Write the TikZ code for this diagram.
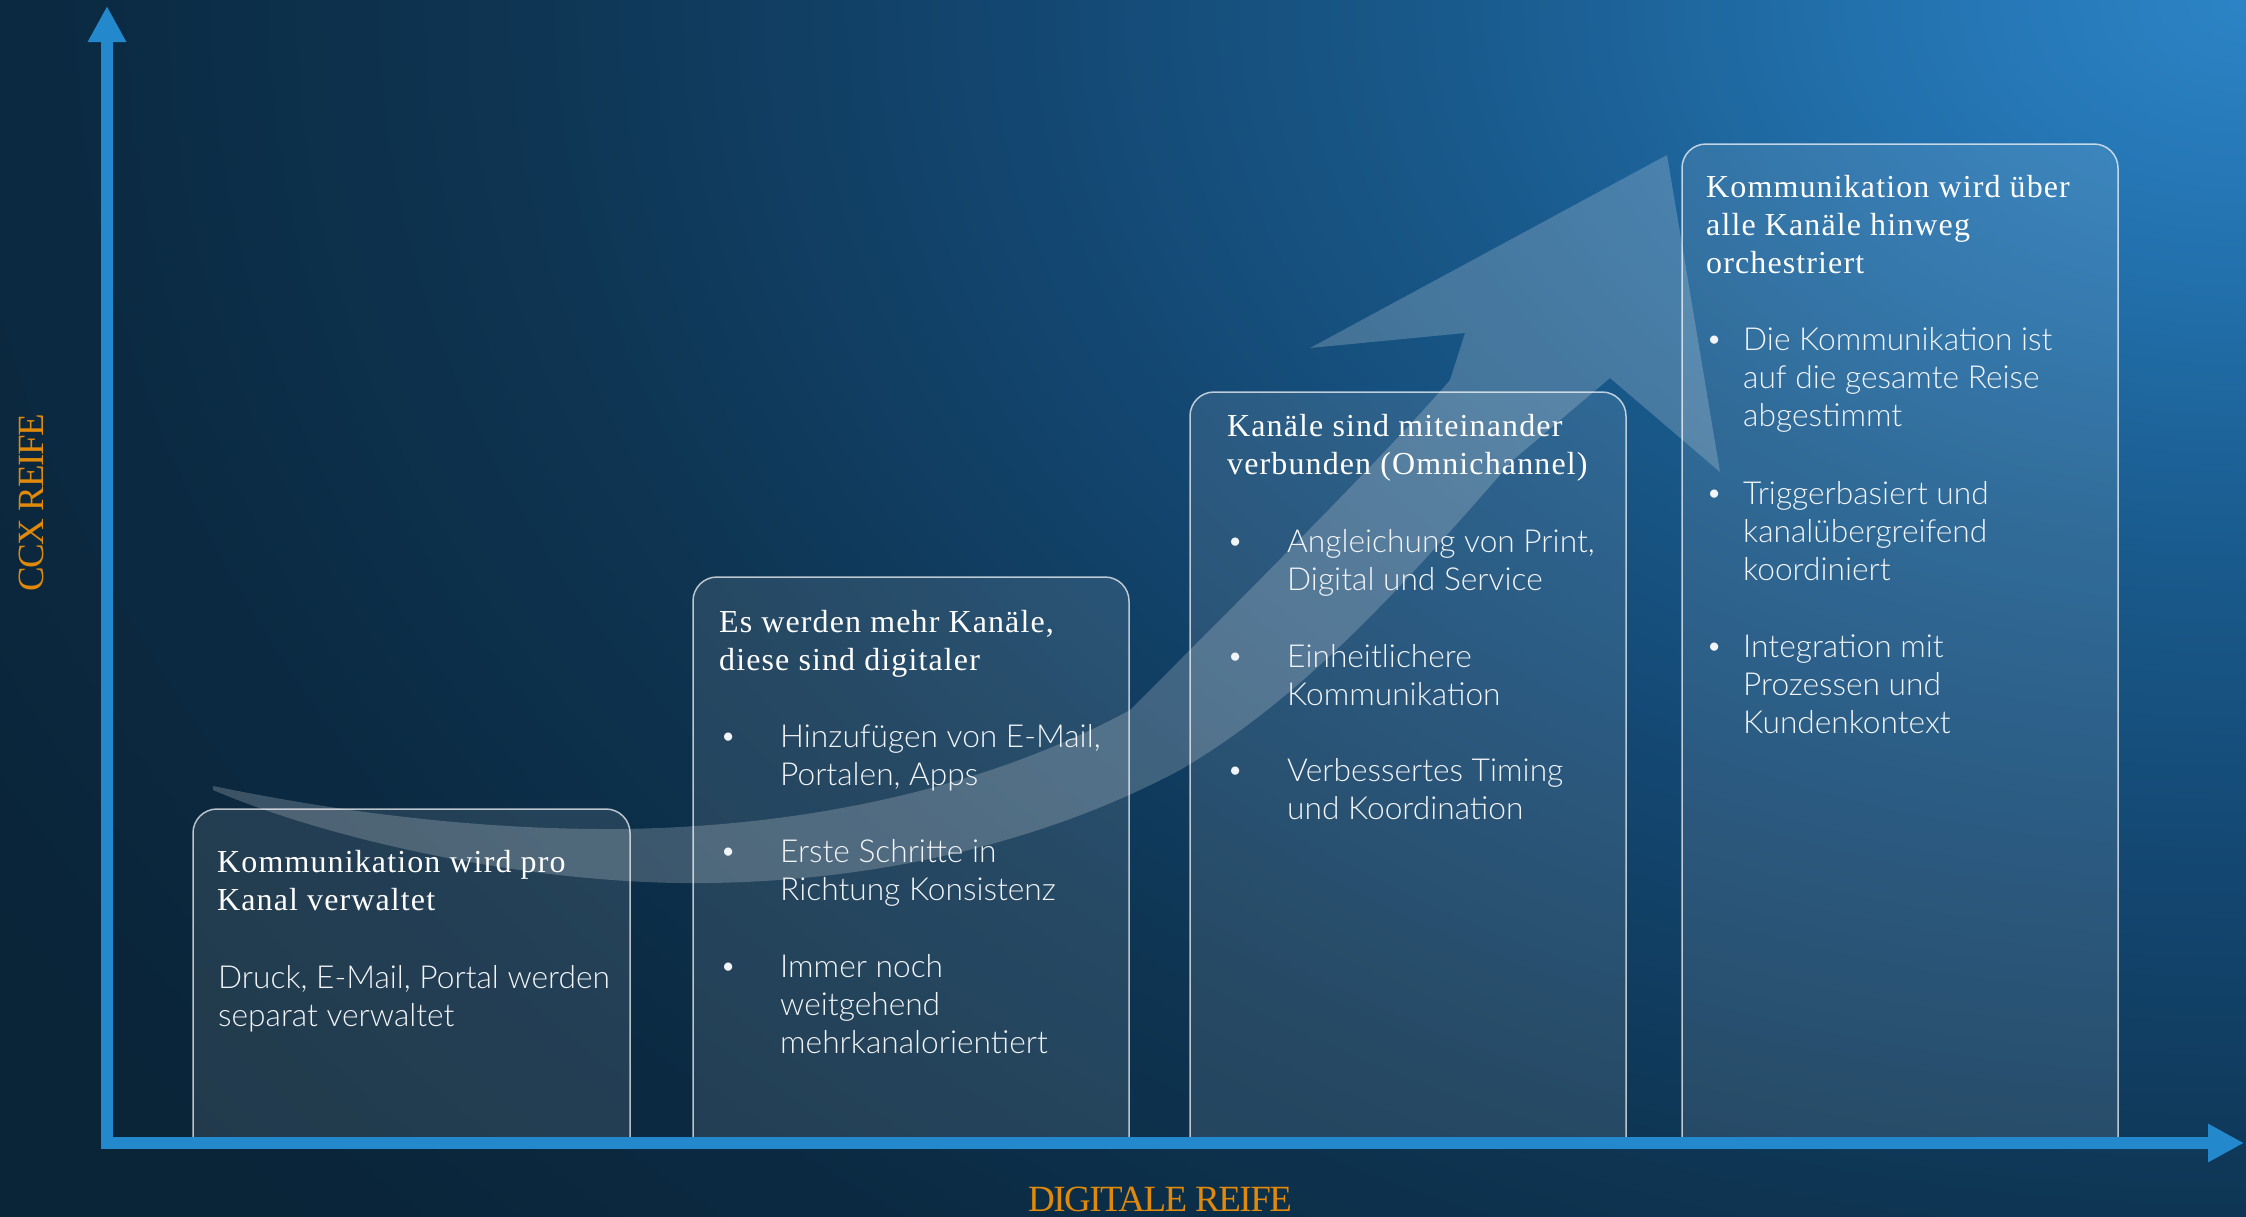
\documentclass[tikz,border=0pt]{standalone}
\usepackage{fontspec}
\setmainfont{Liberation Serif}
\newfontfamily\titlefont[LetterSpace=3.5]{Liberation Serif}
\IfFontExistsTF{Lato Light}{\newfontfamily\bodyfont{Lato Light}}{\newfontfamily\bodyfont{Lato}}
\newfontfamily\axisfont[LetterSpace=-4]{Liberation Serif}
\usetikzlibrary{arrows.meta}

\definecolor{bg0}{HTML}{2C84C6}
\definecolor{bg1}{HTML}{2270AC}
\definecolor{bg2}{HTML}{195A8C}
\definecolor{bg3}{HTML}{134670}
\definecolor{bg4}{HTML}{0E3553}
\definecolor{bg5}{HTML}{0B2A42}
\definecolor{bg6}{HTML}{0A2438}
\definecolor{axiscol}{HTML}{2389CC}
\definecolor{labelcol}{HTML}{E0890A}
\definecolor{bodycol}{HTML}{F2F5F8}

\pgfdeclareradialshading{bgshade}{\pgfpoint{0bp}{0bp}}{color(0bp)=(bg0); color(3.8bp)=(bg1); color(7.6bp)=(bg2); color(12bp)=(bg3); color(16.5bp)=(bg4); color(21bp)=(bg5); color(25bp)=(bg6); color(50bp)=(bg6)}

\newcommand\mylines[5]{%
  \foreach \t [count=\i] in {#5} {\node[#2] (#1-\i) at (#3, {#4+(\i-1)*38.3}) {\t};}}

\tikzset{
  titletext/.style={anchor=base west, inner sep=0pt, text=white, font={\titlefont\fontsize{32}{38}\selectfont}},
  bodytext/.style={anchor=base west, inner sep=0pt, text=bodycol, font={\bodyfont\fontsize{31.7}{38}\selectfont}},
  bulletdot/.style={anchor=base west, inner sep=0pt, text=bodycol, font={\bodyfont\fontsize{28}{38}\selectfont}},
  stagebox/.style={fill=white, fill opacity=0.1, draw=white, draw opacity=0.7, line width=1.5pt, rounded corners=24pt},
  axisline/.style={draw=axiscol, line width=12pt, -{Triangle[width=36pt,length=36pt]}},
  axislabel/.style={inner sep=0pt, text=labelcol, font={\axisfont\fontsize{37}{40}\selectfont}},
  swoosh/.style={fill=white, fill opacity=0.2}
}

\begin{document}
\begin{tikzpicture}[x=1pt,y=-1pt]
\useasboundingbox (0,0) rectangle (2246,1216);
% background
\fill[bg6] (-10,-10) rectangle (2256,1226);
\begin{scope}
  \clip (-10,-10) rectangle (2256,1226);
  \shade[shading=bgshade] (2246,0) ellipse[x radius=2600pt, y radius=1850pt];
\end{scope}

% swoosh arrow
\path[swoosh] (213,786)
  .. controls (330,810) and (470,830) .. (620,829)
  .. controls (850,826) and (1020,770) .. (1130,710)
  .. controls (1240,600) and (1390,450) .. (1450,380)
  -- (1465,333) -- (1310,348) -- (1667,155) -- (1720,472) -- (1610,378)
  -- (1513,460)
  .. controls (1400,590) and (1300,700) .. (1180,770)
  .. controls (1030,850) and (850,885) .. (680,883)
  .. controls (520,881) and (330,840) .. (213,790) -- cycle;

% stage boxes
\draw[stagebox] (193,1143) |- (411,809) -| (630,1143);
\draw[stagebox] (693,1143) |- (911,577) -| (1129,1143);
\draw[stagebox] (1190,1143) |- (1408,392) -| (1626,1143);
\draw[stagebox] (1682,1143) |- (1900,144) -| (2118,1143);

% box 1
\mylines{t1}{titletext}{217}{872}{Kommunikation wird pro, Kanal verwaltet}
\mylines{p1}{bodytext}{218}{988}{{Druck, E-Mail, Portal werden}, separat verwaltet}

% box 2
\mylines{t2}{titletext}{719}{632}{{Es werden mehr Kanäle,}, diese sind digitaler}
\node[bulletdot] (d2a) at (720,745) {•};
\mylines{p2a}{bodytext}{780}{747}{{Hinzufügen von E-Mail,}, {Portalen, Apps}}
\node[bulletdot] (d2b) at (720,860) {•};
\mylines{p2b}{bodytext}{780}{862}{Erste Schritte in, Richtung Konsistenz}
\node[bulletdot] (d2c) at (720,975) {•};
\mylines{p2c}{bodytext}{780}{977}{Immer noch, weitgehend, mehrkanalorientiert}

% box 3
\mylines{t3}{titletext}{1227}{436}{Kanäle sind miteinander, verbunden (Omnichannel)}
\node[bulletdot] (d3a) at (1227,550) {•};
\mylines{p3a}{bodytext}{1287}{552}{{Angleichung von Print,}, Digital und Service}
\node[bulletdot] (d3b) at (1227,665) {•};
\mylines{p3b}{bodytext}{1287}{667}{Einheitlichere, Kommunikation}
\node[bulletdot] (d3c) at (1227,779) {•};
\mylines{p3c}{bodytext}{1287}{781}{Verbessertes Timing, und Koordination}

% box 4
\mylines{t4}{titletext}{1706}{197}{Kommunikation wird über, alle Kanäle hinweg, orchestriert}
\node[bulletdot] (d4a) at (1706,348) {•};
\mylines{p4a}{bodytext}{1743}{350}{Die Kommunikation ist, auf die gesamte Reise, abgestimmt}
\node[bulletdot] (d4b) at (1706,502) {•};
\mylines{p4b}{bodytext}{1743}{504}{Triggerbasiert und, kanalübergreifend, koordiniert}
\node[bulletdot] (d4c) at (1706,655) {•};
\mylines{p4c}{bodytext}{1743}{657}{Integration mit, Prozessen und, Kundenkontext}

% axes
\coordinate (ybase) at (107,1149);
\coordinate (ytip) at (107,6);
\coordinate (origin) at (101,1143);
\coordinate (xtip) at (2244,1143);
\draw[axisline] (ybase) -- (ytip);
\draw[axisline] (origin) -- (xtip);

% axis labels
\node[axislabel, anchor=base] (xlabel) at (1160,1211) {DIGITALE REIFE};
\node[axislabel, anchor=base, rotate=90] (ylabel) at (43,503) {CCX REIFE};
\end{tikzpicture}
\end{document}
